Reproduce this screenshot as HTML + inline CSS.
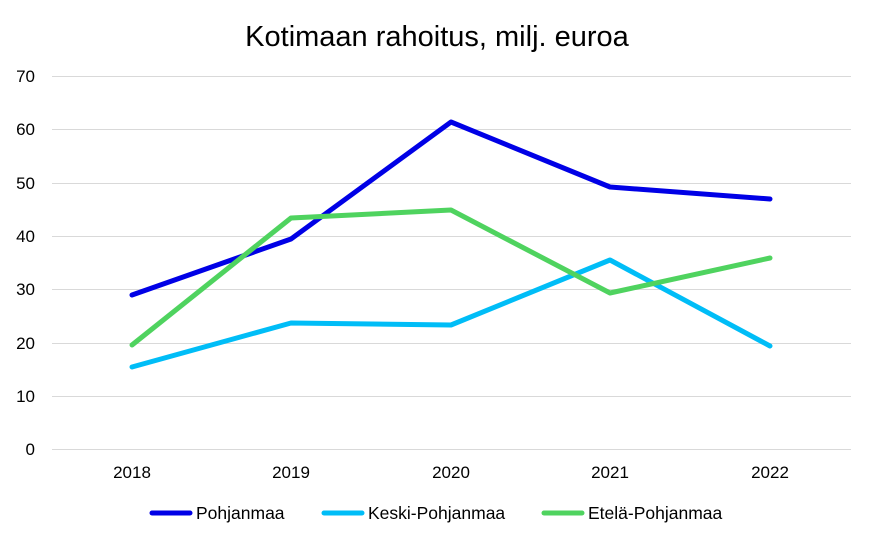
<!DOCTYPE html>
<html><head><meta charset="utf-8"><style>
body{margin:0;background:#fff;}
svg{display:block;font-family:"Liberation Sans",Arial,sans-serif;}
</style></head><body>
<svg width="874" height="544" viewBox="0 0 874 544" xmlns="http://www.w3.org/2000/svg">
<rect width="874" height="544" fill="#fff"/>
<text x="437" y="46" text-anchor="middle" font-size="29" fill="#000">Kotimaan rahoitus, milj. euroa</text>
<g stroke="#d9d9d9" stroke-width="1">
<line x1="52" y1="76.5" x2="851" y2="76.5"/>
<line x1="52" y1="129.5" x2="851" y2="129.5"/>
<line x1="52" y1="183.5" x2="851" y2="183.5"/>
<line x1="52" y1="236.5" x2="851" y2="236.5"/>
<line x1="52" y1="289.5" x2="851" y2="289.5"/>
<line x1="52" y1="343.5" x2="851" y2="343.5"/>
<line x1="52" y1="396.5" x2="851" y2="396.5"/>
<line x1="52" y1="449.5" x2="851" y2="449.5"/>
</g>
<g font-size="17" fill="#000" text-anchor="end">
<text x="35" y="82">70</text><text x="35" y="135">60</text><text x="35" y="189">50</text>
<text x="35" y="242">40</text><text x="35" y="295">30</text><text x="35" y="349">20</text>
<text x="35" y="402">10</text><text x="35" y="455">0</text>
</g>
<g font-size="17" fill="#000" text-anchor="middle">
<text x="132" y="478">2018</text><text x="291" y="478">2019</text><text x="451" y="478">2020</text>
<text x="610" y="478">2021</text><text x="770" y="478">2022</text>
</g>
<g fill="none" stroke-width="5" stroke-linejoin="round" stroke-linecap="round">
<polyline stroke="#0000e6" points="132,295 291,239 451,122 610,187 770,199"/>
<polyline stroke="#00bdf7" points="132,367 291,323 451,325 610,260 770,346"/>
<polyline stroke="#4fd35f" points="132,345 291,218 451,210 610,293 770,258"/>
</g>
<g stroke-width="5" stroke-linecap="round">
<line x1="152" y1="513" x2="190" y2="513" stroke="#0000e6"/>
<line x1="324" y1="513" x2="362" y2="513" stroke="#00bdf7"/>
<line x1="544" y1="513" x2="582" y2="513" stroke="#4fd35f"/>
</g>
<g font-size="17.5" fill="#000">
<text x="196" y="519">Pohjanmaa</text>
<text x="368" y="519">Keski-Pohjanmaa</text>
<text x="588" y="519">Etelä-Pohjanmaa</text>
</g>
</svg>
</body></html>
